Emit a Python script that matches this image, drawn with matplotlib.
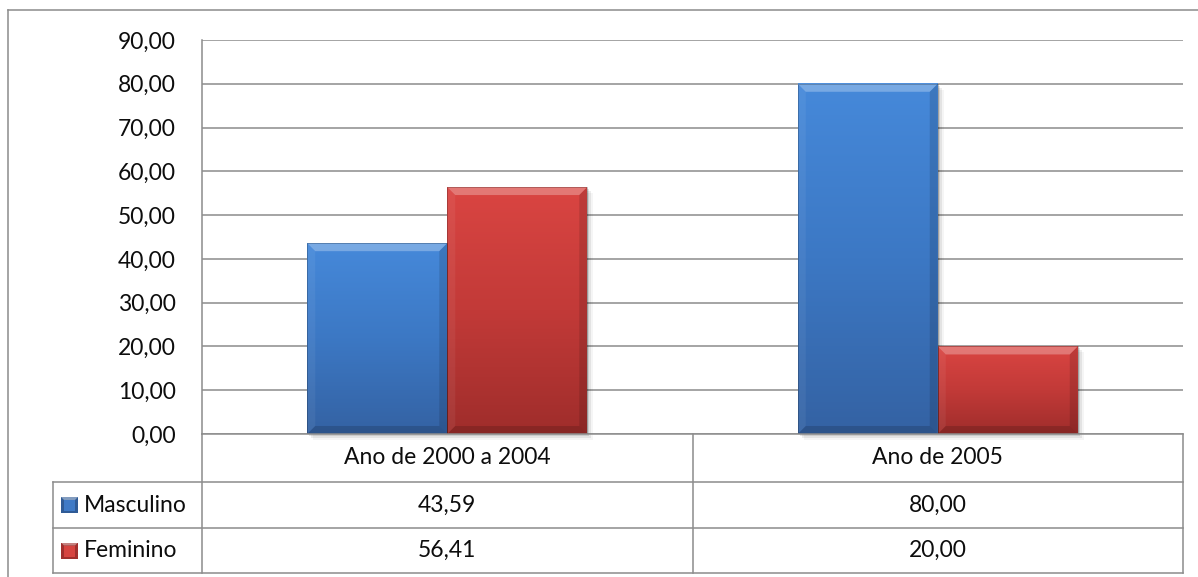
import numpy as np
import matplotlib
matplotlib.use('Agg')
import matplotlib.pyplot as plt
from matplotlib.patches import Rectangle, Polygon
from matplotlib.lines import Line2D
from matplotlib.colors import LinearSegmentedColormap

categories = ['Ano de 2000 a 2004', 'Ano de 2005']
series_names = ['Masculino', 'Feminino']
masculino = [43.59, 80.00]
feminino = [56.41, 20.00]
yticks = [0, 10, 20, 30, 40, 50, 60, 70, 80, 90]

W, H = 1198, 577
plt.rcParams['font.family'] = ['Lato', 'DejaVu Sans']
FS = 16.5
TXT = '#0d0d0d'
GRID = '#8c8c8c'

fig = plt.figure(figsize=(W / 100, H / 100), dpi=100)


def fx(x):
    return x / W


def fy(y):
    return 1 - y / H


def hline(x0, x1, y, **kw):
    fig.add_artist(Line2D([fx(x0), fx(x1)], [fy(y), fy(y)], color=GRID, lw=1.1, **kw))


def vline(x, y0, y1, **kw):
    fig.add_artist(Line2D([fx(x), fx(x)], [fy(y0), fy(y1)], color=GRID, lw=1.1, **kw))


def fmt(v):
    return ('%.2f' % v).replace('.', ',')


# plot area (pixels)
PL, PR, PT, PB = 202, 1183, 40, 434
ax = fig.add_axes([fx(PL), fy(PB), fx(PR) - fx(PL), fy(PT) - fy(PB)])
ax.set_xlim(0, len(categories))
ax.set_ylim(0, 90)
ax.set_yticks(yticks)
ax.yaxis.set_major_formatter(plt.FuncFormatter(lambda v, p: fmt(v)))
ax.tick_params(axis='y', length=0, pad=19, labelsize=FS, labelcolor=TXT)
ax.set_xticks([])
for s in ['top', 'right', 'bottom']:
    ax.spines[s].set_visible(False)
ax.spines['left'].set_color(GRID)
ax.spines['left'].set_linewidth(1.1)
ax.yaxis.grid(True, color=GRID, lw=1.1)
ax.set_axisbelow(True)

blue = LinearSegmentedColormap.from_list('b', ['#3462a3', '#3c78c4', '#4689da'])
red = LinearSegmentedColormap.from_list('r', ['#9f2d2b', '#c23a38', '#da4542'])

ppx = (PR - PL) / len(categories)   # pixels per x unit
ppy = (PB - PT) / 90.0              # pixels per y unit
bw = 140.0 / ppx


def bar(x0, h, cmap):
    x1 = x0 + bw
    # soft shadow
    for i, a in enumerate([0.10, 0.07, 0.04]):
        dx = (2 + 2 * i) / ppx
        dy = (2 + 2 * i) / ppy
        ax.add_patch(Rectangle((x0 + dx, -dy), bw, h, facecolor='black', alpha=a,
                               lw=0, zorder=2, clip_on=False))
    grad = np.linspace(0, 1, 256).reshape(-1, 1)
    ax.imshow(grad, extent=[x0, x1, 0, h], origin='lower', cmap=cmap, aspect='auto',
              zorder=3, interpolation='bilinear')
    b = 8.0 / ppx
    bh = min(8.0 / ppy, h / 2)
    # bevel faces
    ax.add_patch(Polygon([(x0, h), (x1, h), (x1 - b, h - bh), (x0 + b, h - bh)],
                         facecolor='white', alpha=0.28, lw=0, zorder=4))
    ax.add_patch(Polygon([(x0, h), (x0 + b, h - bh), (x0 + b, bh), (x0, 0)],
                         facecolor='white', alpha=0.06, lw=0, zorder=4))
    ax.add_patch(Polygon([(x1, h), (x1 - b, h - bh), (x1 - b, bh), (x1, 0)],
                         facecolor='black', alpha=0.12, lw=0, zorder=4))
    ax.add_patch(Polygon([(x0, 0), (x0 + b, bh), (x1 - b, bh), (x1, 0)],
                         facecolor='black', alpha=0.15, lw=0, zorder=4))
    ax.add_patch(Rectangle((x0, 0), bw, h, facecolor='none', edgecolor='black',
                           alpha=0.25, lw=0.6, zorder=5))


for i in range(len(categories)):
    c = i + 0.5
    bar(c - bw, masculino[i], blue)
    bar(c, feminino[i], red)

ax.set_xlim(0, len(categories))
ax.set_ylim(0, 90)

# outer chart frame
hline(8, W, 10)
vline(8, 10, H)

# data table
R0, R1, R2, R3 = PB, 482, 528, 573
LX = 53
mid = PL + ppx
vline(PL, PB, R3)
vline(mid, PB, R3)
vline(PR, PB, R3)
vline(LX, R1, R3)
hline(PL, PR, R0)
hline(LX, PR, R1)
hline(LX, PR, R2)
hline(LX, PR, R3)

for i, cat in enumerate(categories):
    cx = fx(PL + ppx * (i + 0.5))
    fig.text(cx, fy((R0 + R1) / 2), cat, ha='center', va='center', fontsize=FS, color=TXT)
    fig.text(cx, fy((R1 + R2) / 2), fmt(masculino[i]), ha='center', va='center',
             fontsize=FS, color=TXT)
    fig.text(cx, fy((R2 + R3) / 2), fmt(feminino[i]), ha='center', va='center',
             fontsize=FS, color=TXT)

# legend keys inside the table
key_cols = [('#3f7ac6', '#2f5b96'), ('#d64440', '#a02f2d')]
for j, name in enumerate(series_names):
    yc = (R1 + R2) / 2 if j == 0 else (R2 + R3) / 2
    k0, k1 = 61, 78
    top, bot = yc - 8, yc + 8
    main, dark = key_cols[j]
    fig.add_artist(Rectangle((fx(k0), fy(bot)), fx(k1) - fx(k0), fy(top) - fy(bot),
                             facecolor=dark, lw=0))
    fig.add_artist(Polygon([(fx(k0), fy(top)), (fx(k1), fy(top)), (fx(k1 - 3), fy(top + 3)),
                            (fx(k0 + 3), fy(top + 3))], facecolor='white', alpha=0.4, lw=0))
    fig.add_artist(Rectangle((fx(k0 + 3), fy(bot - 2)), fx(k1 - 3) - fx(k0 + 3),
                             fy(top + 3) - fy(bot - 2), facecolor=main, lw=0))
    fig.text(fx(84), fy(yc), name, ha='left', va='center', fontsize=FS, color=TXT)

fig.savefig('out.png', dpi=100)
